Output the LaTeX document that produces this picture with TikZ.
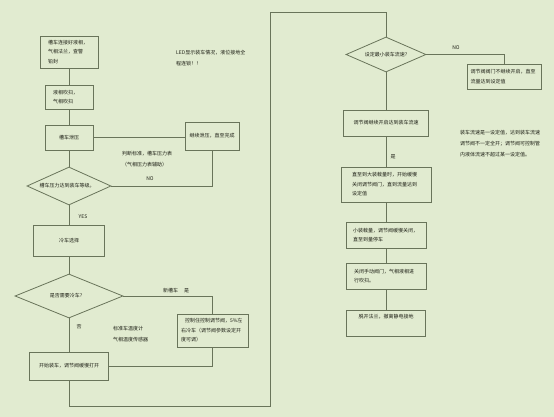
\documentclass[tikz,border=0pt]{standalone}
\usepackage{fontspec}
\setmainfont{Noto Sans CJK SC}
\usetikzlibrary{shapes.geometric}
\definecolor{bg}{RGB}{225,235,208}
\definecolor{ln}{RGB}{105,116,90}
\definecolor{tx}{RGB}{30,32,22}
\begin{document}
\begin{tikzpicture}[x=1pt,y=-1pt,
  box/.style={draw=ln, line width=0.8pt, fill=bg, inner xsep=3pt, inner ysep=2pt,
    align=left, font=\fontsize{5}{9.5}\selectfont, text=tx, anchor=center},
  dia/.style={draw=ln, line width=0.8pt, fill=bg, diamond, inner sep=0pt, aspect=1,
    font=\fontsize{5}{9.5}\selectfont, text=tx},
  conn/.style={draw=ln, line width=0.8pt},
  lbl/.style={font=\fontsize{5}{11}\selectfont, text=tx, inner sep=0pt, align=left}]
\fill[bg] (0,0) rectangle (554,417);
\useasboundingbox (0,0) rectangle (554,417);

% left column
\node[box, text width=42pt, minimum width=58pt, minimum height=32pt] (b1) at (69,52)
  {槽车连接好液相，\\气相法兰，查警\\铅封};
\node[box, text width=32pt, minimum width=48pt, minimum height=24pt] (b2) at (69,97)
  {液相吹扫，\\气相吹扫};
\node[box, align=center, minimum width=48pt, minimum height=25pt] (b3) at (69,137.5)
  {槽车泄压};
\node[box, align=center, minimum width=54pt, minimum height=28pt] (b4) at (212,136)
  {继续泄压，直至完成};
\node[dia, minimum width=84pt, minimum height=38pt] (d1) at (69,186)
  {\makebox[0pt]{\hspace{-4pt}槽车压力达到装车等级。}};
\node[box, align=center, minimum width=71pt, minimum height=31pt] (b5) at (69,240.5)
  {冷车选择};
\node[dia, minimum width=108pt, minimum height=44pt] (d2) at (69,296)
  {\makebox[0pt]{\hspace{-6pt}是否需要冷车?}};
\node[box, text width=63pt, minimum width=71pt, minimum height=33pt] (b6) at (212.5,330.5)
  {\hspace{4pt}控制住控制调节阀，5\%左\\右冷车（调节阀参数设定开\\度可调）};
\node[box, align=center, minimum width=79pt, minimum height=28pt] (b7) at (69,366)
  {开始装车，调节阀缓慢打开};

% right column
\node[dia, minimum width=80pt, minimum height=35pt] (d3) at (386,54.5)
  {\makebox[0pt]{设定最小装车流速?}};
\node[box, text width=67pt, minimum width=74pt, minimum height=25pt] (b8) at (504,76.5)
  {调节阀阀门不继续开启，直至\\流量达到设定值};
\node[box, align=center, minimum width=85pt, minimum height=26pt] (b9) at (386,123)
  {调节阀继续开启达到装车流速};
\node[box, text width=68pt, minimum width=90pt, minimum height=35pt] (b10) at (386,184.5)
  {直至到大装载量时，开始缓慢\\关闭调节阀门，直到流量达到\\设定值};
\node[box, text width=66pt, minimum width=80pt, minimum height=26pt] (b11) at (386,235)
  {小装载量，调节阀缓慢关闭，\\直至到量停车};
\node[box, text width=64pt, minimum width=80pt, minimum height=26pt] (b12) at (386,276)
  {关闭手动阀门，气相液相进\\行吹扫。};
\node[box, align=center, minimum width=79pt, minimum height=26pt] (b13) at (386,323)
  {脱开法兰，撤离静电接地\\[4pt]};

% free labels
\node[lbl, anchor=north west] (tled) at (176,50) {LED显示装车情况，液位接地全\\程连锁！！};
\node[lbl, anchor=north west] (tjudge) at (122,151) {判断标准，槽车压力表\\（气相压力表辅助）};
\node[lbl] (tno1) at (150,179) {NO};
\node[lbl] (tyes) at (83,217) {YES};
\node[lbl] (tnew) at (176,291) {新槽车\hspace{6pt}是};
\node[lbl] (tfou) at (79,327) {否};
\node[lbl, anchor=north west] (ttemp) at (113,326) {标准车温度计\\气相温度传感器};
\node[lbl] (tno2) at (456,48) {NO};
\node[lbl] (tshi) at (393,157) {是};
\node[lbl, anchor=north west] (tnote) at (460,130)
  {装车流速是一设定值，达到装车流速\\调节阀不一定全开；调节阀可控制管\\内液体流速不超过某一设定值。};

% connectors
\coordinate (cbl) at (69,406);
\coordinate (cbr) at (270,406);
\coordinate (ctop) at (270,12);
\draw[conn] (b1) -- (b2);
\draw[conn] (b2) -- (b3);
\draw[conn] (b3) -- (d1);
\draw[conn] (b3.east) -- (b3.east -| b4.west);
\draw[conn] (d1.east) -| (b4.south);
\draw[conn] (d1) -- (b5);
\draw[conn] (b5) -- (d2);
\draw[conn] (d2) -- (b7);
\draw[conn] (d2.east) -| (b6.north);
\draw[conn] (b6.south) |- (b7.east);
\draw[conn] (b7.south) -- (cbl) -- (cbr) -- (ctop) -| (d3.north);
\draw[conn] (d3.east) -| (b8.north);
\draw[conn] (d3) -- (b9);
\draw[conn] (b9) -- (b10);
\draw[conn] (b10) -- (b11);
\draw[conn] (b11) -- (b12);
\draw[conn] (b12) -- (b13);
\end{tikzpicture}
\end{document}
